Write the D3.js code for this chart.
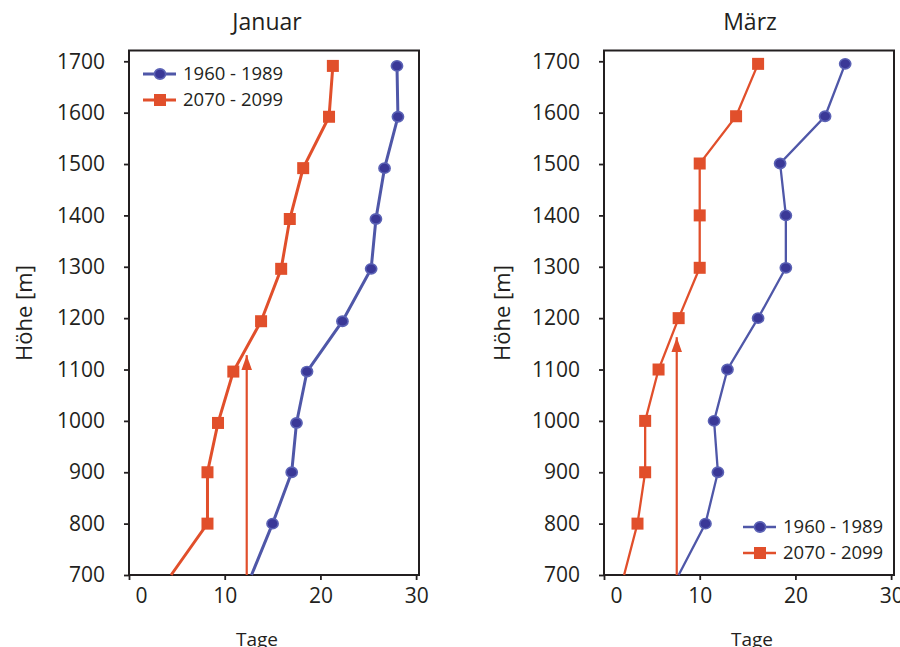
<!DOCTYPE html>
<html>
<head>
<meta charset="utf-8">
<script src="https://cdn.jsdelivr.net/npm/d3@7"></script>
<style>
body { margin: 0; background: #fff; }
text { font-family: "Open Sans", sans-serif; fill: #231f20; }
</style>
</head>
<body>
<script>
// values (Tage per Höhe)
const seriesNames = ["1960 - 1989", "2070 - 2099"];
const yTicks = [700, 800, 900, 1000, 1100, 1200, 1300, 1400, 1500, 1600, 1700];
const xTicks = [0, 10, 20, 30];

const janHeights = [700, 800, 900, 996, 1096, 1194, 1296, 1393, 1492, 1592, 1691];
const janPast = [12.8, 15.0, 17.0, 17.5, 18.6, 22.3, 25.3, 25.8, 26.7, 28.1, 28.0];
const janFuture = [4.4, 8.2, 8.2, 9.3, 10.9, 13.8, 15.9, 16.8, 18.2, 20.9, 21.3];
const janArrow = [12.3, 1128];

const marHeights = [700, 800, 900, 1000, 1100, 1200, 1298, 1400, 1501, 1593, 1695];
const marPast = [7.8, 10.6, 11.9, 11.5, 12.9, 16.1, 19.0, 19.0, 18.4, 23.1, 25.2];
const marFuture = [2.1, 3.5, 4.3, 4.3, 5.7, 7.8, 10.0, 10.0, 10.0, 13.8, 16.1];
const marArrow = [7.6, 1163];

const blue = "#4f57a8", blueFill = "#3a3897", orange = "#e14f2b", ink = "#231f20";

const panels = [
    {title: "Januar", heights: janHeights, past: janPast, future: janFuture, arrow: janArrow,
     left: 129, lw: 3, legend: [143, 74], tageX: 257, titleX: 267, ylabX: 24},
    {title: "März", heights: marHeights, past: marPast, future: marFuture, arrow: marArrow,
     left: 604, lw: 2.3, legend: [743, 527], tageX: 752, titleX: 750, ylabX: 502}
];

const plotTop = 50.5, plotBottom = 575, plotW = 290;

const svg = d3.select("body").append("svg")
    .attr("width", 900)
    .attr("height", 647);

svg.append("defs").append("marker")
    .attr("id", "arrowhead")
    .attr("viewBox", "0 0 10 14")
    .attr("refX", 5).attr("refY", 0)
    .attr("markerWidth", 11).attr("markerHeight", 15)
    .attr("markerUnits", "userSpaceOnUse")
    .attr("orient", "0")
    .append("path")
    .attr("d", "M0,14 L5,0 L10,14 Z")
    .attr("fill", orange);

panels.forEach(p => {
    let x = d3.scaleLinear().domain([0, 30.3]).range([p.left, p.left + plotW]);
    let y = d3.scaleLinear().domain([700, 1721]).range([plotBottom, plotTop]);

    let g = svg.append("g");

    // y axis
    let ya = g.append("g")
        .attr("transform", "translate(" + p.left + ",0)")
        .call(d3.axisLeft(y).tickValues(yTicks).tickSize(5).tickPadding(19).tickFormat(d3.format("d")));
    ya.select(".domain").remove();
    ya.selectAll("line").attr("stroke", ink).attr("stroke-width", 1.8);
    ya.selectAll("text").attr("font-size", 21).attr("fill", ink);

    // x axis
    let xa = g.append("g")
        .attr("transform", "translate(0," + plotBottom + ")")
        .call(d3.axisBottom(x).tickValues(xTicks).tickSize(5).tickPadding(8));
    xa.select(".domain").remove();
    xa.selectAll("line").attr("stroke", ink).attr("stroke-width", 1.8);
    xa.selectAll("text").attr("font-size", 21).attr("fill", ink)
        .attr("dx", d => d === 0 ? 12 : 0);

    // frame
    g.append("rect")
        .attr("x", p.left).attr("y", plotTop)
        .attr("width", plotW).attr("height", plotBottom - plotTop)
        .attr("fill", "none").attr("stroke", ink).attr("stroke-width", 2);

    let line = d3.line()
        .x(d => x(d[0]))
        .y(d => y(d[1]));

    let pastPts = p.past.map((v, i) => [v, p.heights[i]]);
    let futPts = p.future.map((v, i) => [v, p.heights[i]]);

    // arrow
    g.append("line")
        .attr("x1", x(p.arrow[0])).attr("x2", x(p.arrow[0]))
        .attr("y1", y(700)).attr("y2", y(p.arrow[1]))
        .attr("stroke", orange).attr("stroke-width", 2.2)
        .attr("marker-end", "url(#arrowhead)");

    g.append("path").datum(futPts)
        .attr("d", line).attr("fill", "none")
        .attr("stroke", orange).attr("stroke-width", p.lw);
    g.append("path").datum(pastPts)
        .attr("d", line).attr("fill", "none")
        .attr("stroke", blue).attr("stroke-width", p.lw);

    g.selectAll(".sq").data(futPts.slice(1)).enter()
        .append("rect")
        .attr("x", d => x(d[0]) - 6).attr("y", d => y(d[1]) - 6)
        .attr("width", 12).attr("height", 12)
        .attr("fill", orange);
    g.selectAll(".dot").data(pastPts.slice(1)).enter()
        .append("ellipse")
        .attr("cx", d => x(d[0])).attr("cy", d => y(d[1]))
        .attr("rx", 5.6).attr("ry", 5.1)
        .attr("fill", blueFill).attr("stroke", "#5b62b5").attr("stroke-width", 1.6);

    // legend
    let lx = p.legend[0], ly = p.legend[1];
    g.append("line").attr("x1", lx).attr("x2", lx + 33).attr("y1", ly).attr("y2", ly)
        .attr("stroke", blue).attr("stroke-width", p.lw);
    g.append("ellipse").attr("cx", lx + 17).attr("cy", ly).attr("rx", 5.6).attr("ry", 5.1)
        .attr("fill", blueFill).attr("stroke", "#5b62b5").attr("stroke-width", 1.6);
    g.append("text").attr("x", lx + 40).attr("y", ly).attr("dy", "0.35em")
        .attr("font-size", 18.5).text(seriesNames[0]);
    g.append("line").attr("x1", lx).attr("x2", lx + 33).attr("y1", ly + 26).attr("y2", ly + 26)
        .attr("stroke", orange).attr("stroke-width", p.lw);
    g.append("rect").attr("x", lx + 11).attr("y", ly + 20).attr("width", 12).attr("height", 12)
        .attr("fill", orange);
    g.append("text").attr("x", lx + 40).attr("y", ly + 26).attr("dy", "0.35em")
        .attr("font-size", 18.5).text(seriesNames[1]);

    // titles
    g.append("text").attr("x", p.titleX).attr("y", 30)
        .attr("text-anchor", "middle").attr("font-size", 23).text(p.title);
    g.append("text").attr("x", p.tageX).attr("y", 646)
        .attr("text-anchor", "middle").attr("font-size", 19).text("Tage");
    g.append("text")
        .attr("transform", "translate(" + p.ylabX + ",313) rotate(-90)")
        .attr("text-anchor", "middle").attr("dy", "0.35em")
        .attr("font-size", 22).text("Höhe [m]");
});
</script>
</body>
</html>
